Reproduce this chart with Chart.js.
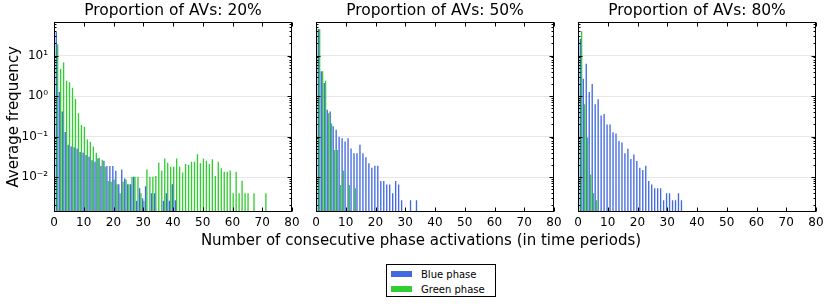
<!DOCTYPE html>
<html>
<head>
<meta charset="utf-8">
<script src="https://cdn.jsdelivr.net/npm/chart.js@4.4.0/dist/chart.umd.min.js"></script>
<style>
  body { margin: 0; background: #fff; width: 830px; height: 305px; position: relative; overflow: hidden; font-family: "DejaVu Sans", sans-serif; }
  canvas { position: absolute; top: 0; }
  #xlabel { position: absolute; left: 0; width: 842px; top: 231px; text-align: center; font-size: 15px; line-height: 18px; color: #000; }
  #legend { position: absolute; left: 386px; top: 264px; width: 110px; height: 33px; border: 1px solid #000; box-sizing: border-box; font-size: 10px; }
  .item { position: absolute; left: 4px; height: 12px; line-height: 12px; white-space: nowrap; }
  .patch { display: inline-block; width: 21px; height: 6px; vertical-align: middle; margin-right: 9px; margin-top: -2px; }
</style>
</head>
<body>
<canvas id="c1" width="302" height="234" style="left:0px"></canvas>
<canvas id="c2" width="258" height="234" style="left:306px"></canvas>
<canvas id="c3" width="258" height="234" style="left:568px"></canvas>
<div id="xlabel">Number of consecutive phase activations (in time periods)</div>
<div id="legend">
  <div class="item" style="top:4px"><span class="patch" style="background:#4169e1"></span>Blue phase</div>
  <div class="item" style="top:19px"><span class="patch" style="background:#32cd32"></span>Green phase</div>
</div>
<script>
// values per run length k = 1, 2, 3, ... (null = no bar)
const titles = ["Proportion of AVs: 20%", "Proportion of AVs: 50%", "Proportion of AVs: 80%"];

const blue20 = [38, 1.26, 0.42, 0.13, 0.063, 0.057, 0.055, 0.05, 0.042, 0.04,
  0.035, 0.032, 0.026, 0.024, 0.029, 0.0188, 0.0255, 0.0188, 0.0188, 0.0188,
  0.0144, 0.0067, 0.0154, 0.0093, 0.0067, 0.0067, 0.0103, 0.0026, 0.0053, 0.003,
  0.006, null, 0.004, 0.004, null, null, 0.0026, 0.004, 0.0026, 0.0067, 0.0027];
const green20 = [19, 4.7, 6.8, 2.4, 2.2, 1.6, 0.85, 0.38, 0.195, 0.175,
  0.085, 0.075, 0.057, 0.04, 0.03, 0.027, 0.018, 0.008, 0.0077, 0.0087,
  0.0067, 0.004, 0.0077, 0.0087, 0.0067, 0.0103, 0.0103, 0.0103, 0.004, 0.0026,
  0.0154, 0.0103, 0.0103, 0.0107, 0.0228, 0.0144, 0.029, 0.0228, 0.018, 0.018,
  0.029, 0.018, 0.013, 0.021, 0.02, 0.024, 0.024, 0.037, 0.022, 0.029,
  0.0255, 0.021, 0.0276, 0.0107, 0.024, 0.0165, 0.0136, 0.0136, 0.0145, 0.004,
  0.0136, 0.004, 0.0082, 0.004, 0.004, null, 0.004, null, null, null, 0.004];

const blue50 = [45, 4.1, 2.1, 0.46, 0.42, 0.18, 0.147, 0.1, 0.091, 0.076,
  0.091, 0.051, 0.039, 0.039, 0.063, 0.039, 0.031, 0.022, 0.017, 0.019,
  0.019, 0.008, 0.008, 0.0066, 0.0066, 0.004, 0.008, 0.0066, 0.0027, null,
  null, 0.0027, null, 0.0027];
const green50 = [45, 4.1, 2.4, 0.38, 0.21, 0.047, 0.047, 0.0064, 0.0144, null,
  0.0064, null, 0.0053];

const blue80 = [26, 2.7, 6.3, 1.26, 2.0, 0.63, 0.84, 0.33, 0.36, 0.2,
  0.2, 0.128, 0.12, 0.078, 0.072, 0.039, 0.05, 0.028, 0.036, 0.025,
  0.017, 0.015, 0.019, 0.008, 0.0066, 0.0053, 0.0053, 0.0053, 0.0027, 0.004,
  0.004, 0.0027, 0.0027, 0.004, 0.0027];
const green80 = [40, 0.63, 0.095, 0.0117, 0.004, 0.0027];

const yTickValues = [0.01, 0.1, 1, 10];
const yTickLabels = ["10\u207B\u00B2", "10\u207B\u00B9", "10\u2070", "10\u00B9"];
const yMin = 0.00138, yMax = 69;

Chart.defaults.font.family = "'DejaVu Sans', sans-serif";
Chart.defaults.color = "#000";

// matplotlib style frame with inward ticks on all four sides
const framePlugin = {
  id: "frame",
  afterDatasetsDraw(chart) {
    const { ctx, chartArea: a, scales: { x, y } } = chart;
    const L = Math.round(a.left) + 0.5, R = Math.round(a.right) - 0.5;
    const T = Math.round(a.top) + 0.5, B = Math.round(a.bottom) - 0.5;
    ctx.save();
    ctx.strokeStyle = "#000";
    ctx.lineWidth = 1;
    ctx.beginPath();
    x.ticks.forEach((t) => {
      const px = Math.round(x.getPixelForValue(t.value)) + 0.5;
      ctx.moveTo(px, B); ctx.lineTo(px, B - 4);
      ctx.moveTo(px, T); ctx.lineTo(px, T + 4);
    });
    for (let e = -3; e <= 1; e++) {
      for (let m = 1; m <= 9; m++) {
        const v = m * Math.pow(10, e);
        if (v < y.min || v > y.max) continue;
        const len = m === 1 ? 4 : 2;
        const py = Math.round(y.getPixelForValue(v)) + 0.5;
        ctx.moveTo(L, py); ctx.lineTo(L + len, py);
        ctx.moveTo(R, py); ctx.lineTo(R - len, py);
      }
    }
    ctx.stroke();
    ctx.strokeRect(L, T, R - L, B - T);
    ctx.restore();
  },
};

function toPoints(arr) {
  return arr.map((v, i) => ({ x: i + 1, y: v }));
}

function makePanel(id, title, blue, green, first) {
  new Chart(document.getElementById(id), {
    type: "bar",
    data: {
      datasets: [
        { label: "Blue phase", data: toPoints(blue), backgroundColor: "#4169e1" },
        { label: "Green phase", data: toPoints(green), backgroundColor: "#32cd32" },
      ],
    },
    options: {
      responsive: false,
      animation: false,
      layout: { padding: { left: 0, right: 10, top: 0, bottom: 0 } },
      datasets: { bar: { barPercentage: 1, categoryPercentage: 0.9, borderWidth: 0 } },
      plugins: {
        legend: { display: false },
        tooltip: { enabled: false },
        title: {
          display: true,
          text: title,
          fullSize: false,
          font: { size: 15.5, weight: "normal" },
          padding: { top: 2, bottom: 1 },
        },
      },
      scales: {
        x: {
          type: "linear",
          min: 0,
          max: 80,
          offset: false,
          ticks: { stepSize: 10, font: { size: 12 }, padding: 4, maxRotation: 0 },
          grid: { display: false, drawTicks: false },
          border: { display: false },
          afterFit(scale) {
            scale.height = 22;
            scale.paddingLeft = 0;
            scale.paddingRight = 0;
          },
        },
        y: {
          type: "logarithmic",
          min: yMin,
          max: yMax,
          afterBuildTicks(scale) {
            scale.ticks = yTickValues.map((v) => ({ value: v }));
          },
          ticks: {
            display: first,
            font: { size: 12 },
            padding: 6,
            callback: (v, i) => yTickLabels[i],
          },
          grid: { color: "#e6e6e6", drawTicks: false },
          border: { display: false },
          title: {
            display: first,
            text: "Average frequency",
            font: { size: 15 },
            padding: { top: 5, bottom: 0 },
          },
          afterFit(scale) {
            scale.width = first ? 54 : 10;
            scale.paddingTop = 0;
            scale.paddingBottom = 0;
          },
        },
      },
    },
    plugins: [framePlugin],
  });
}

makePanel("c1", titles[0], blue20, green20, true);
makePanel("c2", titles[1], blue50, green50, false);
makePanel("c3", titles[2], blue80, green80, false);
</script>
</body>
</html>
